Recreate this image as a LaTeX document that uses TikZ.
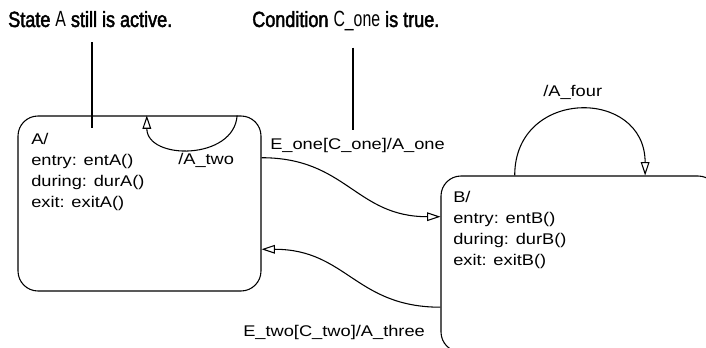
\documentclass[tikz,border=0pt]{standalone}
\usepackage{fontspec}
\setmainfont{Liberation Sans}
\newfontfamily\diagfont{Liberation Sans}[FakeStretch=1.18]
\newfontfamily\notefont{Liberation Sans}[FakeStretch=0.82,FakeBold=2]
\newfontfamily\notethin{Liberation Sans}[FakeStretch=0.72]
\usetikzlibrary{arrows.meta, calc, fit}

\begin{document}
\begin{tikzpicture}[
  x=0.75pt, y=-0.75pt,
  font=\diagfont\fontsize{11.6pt}{15.8pt}\selectfont,
  state/.style={draw, rounded corners=15pt, line width=0.8pt, inner sep=0pt},
  statetext/.style={anchor=north west, inner sep=0pt, align=left},
  trans/.style={-{Triangle[open, length=10pt, width=6.5pt]}, line width=0.8pt},
  lbl/.style={anchor=west, inner sep=0pt},
  note/.style={anchor=base west, inner sep=0pt,
    font=\notefont\fontsize{16.5pt}{20pt}\selectfont},
  pin/.style={line width=1.5pt},
]
  \useasboundingbox (0,0) rectangle (706,348);
  \begin{scope}
    \clip (0,0) rectangle (706,348);

    % states
    \node[state, fit={(18,116) (261,291)}] (stateA) {};
    \node[state, fit={(441,176) (718,352)}] (stateB) {};
    \node[statetext] (textA) at (31,133) {A/\\entry: entA()\\during: durA()\\exit: exitA()};
    \node[statetext] (textB) at (453,191) {B/\\entry: entB()\\during: durB()\\exit: exitB()};

    % transitions
    \draw[trans] ($(stateA.north east)!0.24!(stateA.south east)$)
      .. controls +(85,0) and +(-85,0) .. ($(stateB.north west)!0.233!(stateB.south west)$);
    \draw[trans] ($(stateB.north west)!0.744!(stateB.south west)$)
      .. controls +(-85,0) and +(85,0) .. ($(stateA.north east)!0.76!(stateA.south east)$);
    \draw[trans] ($(stateA.north west)!0.90!(stateA.north east)$)
      .. controls +(-3,45) and +(0,45) .. ($(stateA.north west)!0.53!(stateA.north east)$);
    \draw[trans] ($(stateB.north west)!0.267!(stateB.north east)$)
      .. controls +(0,-88) and +(0,-88) .. ($(stateB.north west)!0.736!(stateB.north east)$);

    \node[lbl] (lblEone) at (270,146) {E\_one[C\_one]/A\_one};
    \node[lbl] (lblEtwo) at (243,333) {E\_two[C\_two]/A\_three};
    \node[lbl] (lblAtwo) at (178,160) {/A\_two};
    \node[lbl] (lblAfour) at (543,92) {/A\_four};

    % notes
    \node[note] (noteA) at (8,27)
      {State {\notethin\fontsize{16.5pt}{20pt}\selectfont A} still is active.};
    \node[note] (noteC) at (252,27)
      {Condition {\notethin\fontsize{16.5pt}{20pt}\selectfont C\_one} is true.};
    \coordinate (pinA) at (92,128);
    \coordinate (pinC) at (353,130);
    \draw[pin, shorten <=11pt] (noteA.south -| pinA) -- (pinA);
    \draw[pin, shorten <=12pt] (noteC.south -| pinC) -- (pinC);
  \end{scope}
\end{tikzpicture}
\end{document}
